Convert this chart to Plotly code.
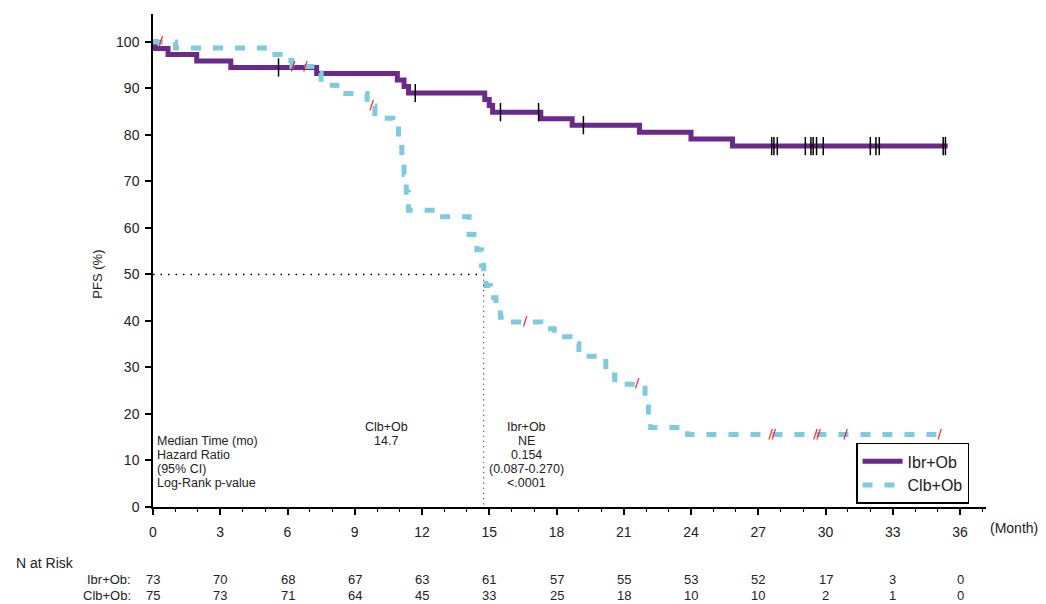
import plotly.graph_objects as go

# ---------------- data ----------------
months_ticks = [0, 3, 6, 9, 12, 15, 18, 21, 24, 27, 30, 33, 36]
pfs_ticks = [0, 10, 20, 30, 40, 50, 60, 70, 80, 90, 100]

ibr_name = "Ibr+Ob"
clb_name = "Clb+Ob"

# Ibr+Ob KM step curve
ibr_t = [0, 0.1, 0.67, 1.95, 3.47, 7.3, 10.9, 11.2, 11.4, 14.8, 15.0, 15.15,
         17.3, 18.7, 21.7, 24.0, 25.85, 35.45]
ibr_s = [100, 98.6, 97.3, 95.9, 94.5, 93.2, 91.8, 90.4, 89.0, 87.6, 86.3, 84.9,
         83.5, 82.1, 80.6, 79.1, 77.6, 77.6]
# Ibr+Ob censor marks
ibr_cens_t = [5.6, 11.7, 15.5, 17.2, 19.2, 27.6, 27.7, 27.85, 29.1, 29.35, 29.45,
              29.6, 29.9, 32.0, 32.25, 32.4, 35.25, 35.35]
ibr_cens_s = [94.5, 89.0, 84.9, 84.9, 82.1, 77.6, 77.6, 77.6, 77.6, 77.6, 77.6,
              77.6, 77.6, 77.6, 77.6, 77.6, 77.6, 77.6]

# Clb+Ob KM step curve
clb_t = [0, 1.0, 5.2, 5.85, 6.2, 7.2, 7.5, 8.2, 9.55, 9.9, 10.7, 10.95, 11.1,
         11.2, 11.3, 11.4, 12.7, 14.1, 14.45, 14.65, 14.75, 14.85, 15.05, 15.3,
         15.5, 15.9, 17.3, 17.9, 18.6, 19.0, 20.2, 20.6, 21.95, 22.1, 22.2, 23.85, 35.1]
clb_s = [100, 98.7, 97.3, 96.0, 94.7, 93.3, 90.7, 88.9, 86.2, 83.6, 82.2, 78.7, 75.2,
         71.5, 67.7, 63.8, 62.4, 58.6, 55.3, 52.0, 48.7, 47.6, 45.0, 41.7,
         40.8, 39.8, 38.3, 36.6, 35.1, 32.4, 28.4, 26.4, 23.8, 19.8, 17.1, 15.6, 15.6]
# Clb+Ob censor marks
clb_cens_t = [0.35, 6.25, 6.8, 9.76, 16.6, 21.6, 27.55, 27.7, 29.55, 29.7, 30.9, 35.1]
clb_cens_s = [100, 94.7, 94.7, 86.2, 39.8, 26.4, 15.6, 15.6, 15.6, 15.6, 15.6, 15.6]

median_clb = 14.75

at_risk_ibr = [73, 70, 68, 67, 63, 61, 57, 55, 53, 52, 17, 3, 0]
at_risk_clb = [75, 73, 71, 64, 45, 33, 25, 18, 10, 10, 2, 1, 0]

stats_labels = ["Median Time (mo)", "Hazard Ratio", "(95% CI)", "Log-Rank p-value"]
clb_stats = ["Clb+Ob", "14.7"]
ibr_stats = ["Ibr+Ob", "NE", "0.154", "(0.087-0.270)", "<.0001"]

# ---------------- style ----------------
PURPLE = "#6b2a8a"
BLUE = "#7ecadf"
FONT = "Liberation Sans, Arial, sans-serif"
TXT = "#222222"

fig = go.Figure()

fig.add_trace(go.Scatter(x=ibr_t, y=ibr_s, mode="lines", line_shape="hv",
                         line=dict(color=PURPLE, width=5), name=ibr_name))
fig.add_trace(go.Scatter(x=clb_t, y=clb_s, mode="lines", line_shape="hv",
                         line=dict(color=BLUE, width=5, dash="10px,12px"), name=clb_name))

# median dotted lines
fig.add_trace(go.Scatter(x=[0, median_clb], y=[50, 50], mode="lines",
                         line=dict(color="black", width=1.5, dash="1.5px,6px"),
                         showlegend=False, hoverinfo="skip"))
fig.add_trace(go.Scatter(x=[median_clb, median_clb], y=[50, 0], mode="lines",
                         line=dict(color="#555555", width=1.2, dash="1.2px,4px"),
                         showlegend=False, hoverinfo="skip"))

# censor marks
fig.add_trace(go.Scatter(x=ibr_cens_t, y=ibr_cens_s, mode="markers",
                         marker=dict(symbol="line-ns", size=13,
                                     line=dict(color="black", width=1.5)),
                         showlegend=False))
fig.add_trace(go.Scatter(x=clb_cens_t, y=clb_cens_s, mode="text",
                         text=["/"] * len(clb_cens_t),
                         textfont=dict(color="#ff0000", size=13, family="DejaVu Sans"),
                         textposition="middle center", showlegend=False))

# stats text block
STAT_SIZE = 12.5
label_y = [14.19, 11.18, 8.17, 5.16]
for lab, yy in zip(stats_labels, label_y):
    fig.add_annotation(x=0.1, y=yy, xref="x", yref="y", text=lab, showarrow=False,
                       xanchor="left", yanchor="middle",
                       font=dict(family=FONT, size=STAT_SIZE, color=TXT))
clb_y = [17.3, 14.19]
for s, yy in zip(clb_stats, clb_y):
    fig.add_annotation(x=10.41, y=yy, xref="x", yref="y", text=s, showarrow=False,
                       xanchor="center", yanchor="middle",
                       font=dict(family=FONT, size=STAT_SIZE, color=TXT))
ibr_y = [17.3, 14.19, 11.18, 8.17, 5.16]
for s, yy in zip(ibr_stats, ibr_y):
    fig.add_annotation(x=16.66, y=yy, xref="x", yref="y", text=s.replace("<", "&lt;"),
                       showarrow=False, xanchor="center", yanchor="middle",
                       font=dict(family=FONT, size=STAT_SIZE, color=TXT))

# axis titles
fig.add_annotation(x=-0.067, y=50, xref="paper", yref="y", text="PFS (%)", textangle=-90,
                   showarrow=False, xanchor="center", yanchor="middle",
                   font=dict(family=FONT, size=13, color=TXT))
fig.add_annotation(x=1.0, y=0, xref="paper", yref="paper", text="(Month)",
                   showarrow=False, xanchor="left", yanchor="middle", xshift=2, yshift=-21,
                   font=dict(family=FONT, size=14, color=TXT))

# at-risk table
fig.add_annotation(x=-0.167, y=-0.1136, xref="paper", yref="paper", text="N at Risk",
                   showarrow=False, xanchor="left", yanchor="middle",
                   font=dict(family=FONT, size=14, color=TXT))
fig.add_annotation(x=-0.024, y=-0.148, xref="paper", yref="paper", text=ibr_name + ":",
                   showarrow=False, xanchor="right", yanchor="middle",
                   font=dict(family=FONT, size=13, color=TXT))
fig.add_annotation(x=-0.024, y=-0.1805, xref="paper", yref="paper", text=clb_name + ":",
                   showarrow=False, xanchor="right", yanchor="middle",
                   font=dict(family=FONT, size=13, color=TXT))
for t, a, b in zip(months_ticks, at_risk_ibr, at_risk_clb):
    fig.add_annotation(x=t, y=-0.148, xref="x", yref="paper", text=str(a), showarrow=False,
                       xanchor="center", yanchor="middle",
                       font=dict(family=FONT, size=13, color=TXT))
    fig.add_annotation(x=t, y=-0.1805, xref="x", yref="paper", text=str(b), showarrow=False,
                       xanchor="center", yanchor="middle",
                       font=dict(family=FONT, size=13, color=TXT))

fig.update_layout(
    width=1046, height=604,
    margin=dict(l=153, r=60, t=14, b=97),
    plot_bgcolor="white", paper_bgcolor="white",
    font=dict(family=FONT, size=13, color=TXT),
    legend=dict(x=0.844, y=0.13, xanchor="left", yanchor="top",
                bgcolor="white", bordercolor="black", borderwidth=1.5,
                font=dict(family=FONT, size=16, color=TXT), itemwidth=40,
                tracegroupgap=0),
    showlegend=True,
)
fig.update_xaxes(range=[0, 37.16], tickvals=months_ticks, ticks="outside", ticklen=6,
                 tickwidth=1.5, tickcolor="black", showline=True, linecolor="black",
                 linewidth=1.5, showgrid=False, zeroline=False, ticklabelstandoff=5,
                 minor=dict(dtick=1, ticks="outside", ticklen=3, tickwidth=1.2,
                            tickcolor="black", showgrid=False),
                 tickfont=dict(family=FONT, size=14, color=TXT))
fig.update_yaxes(range=[0, 106], tickvals=pfs_ticks, ticks="outside", ticklen=6,
                 tickwidth=1.5, tickcolor="black", showline=True, linecolor="black",
                 linewidth=1.5, showgrid=False, zeroline=False, ticklabelstandoff=3,
                 tickfont=dict(family=FONT, size=14, color=TXT))

fig.write_html(
    "out.html",
    config={"displayModeBar": False},
    post_script="document.body.style.margin='0';"
                "document.documentElement.style.overflow='hidden';"
                "document.body.style.overflow='hidden';",
)
